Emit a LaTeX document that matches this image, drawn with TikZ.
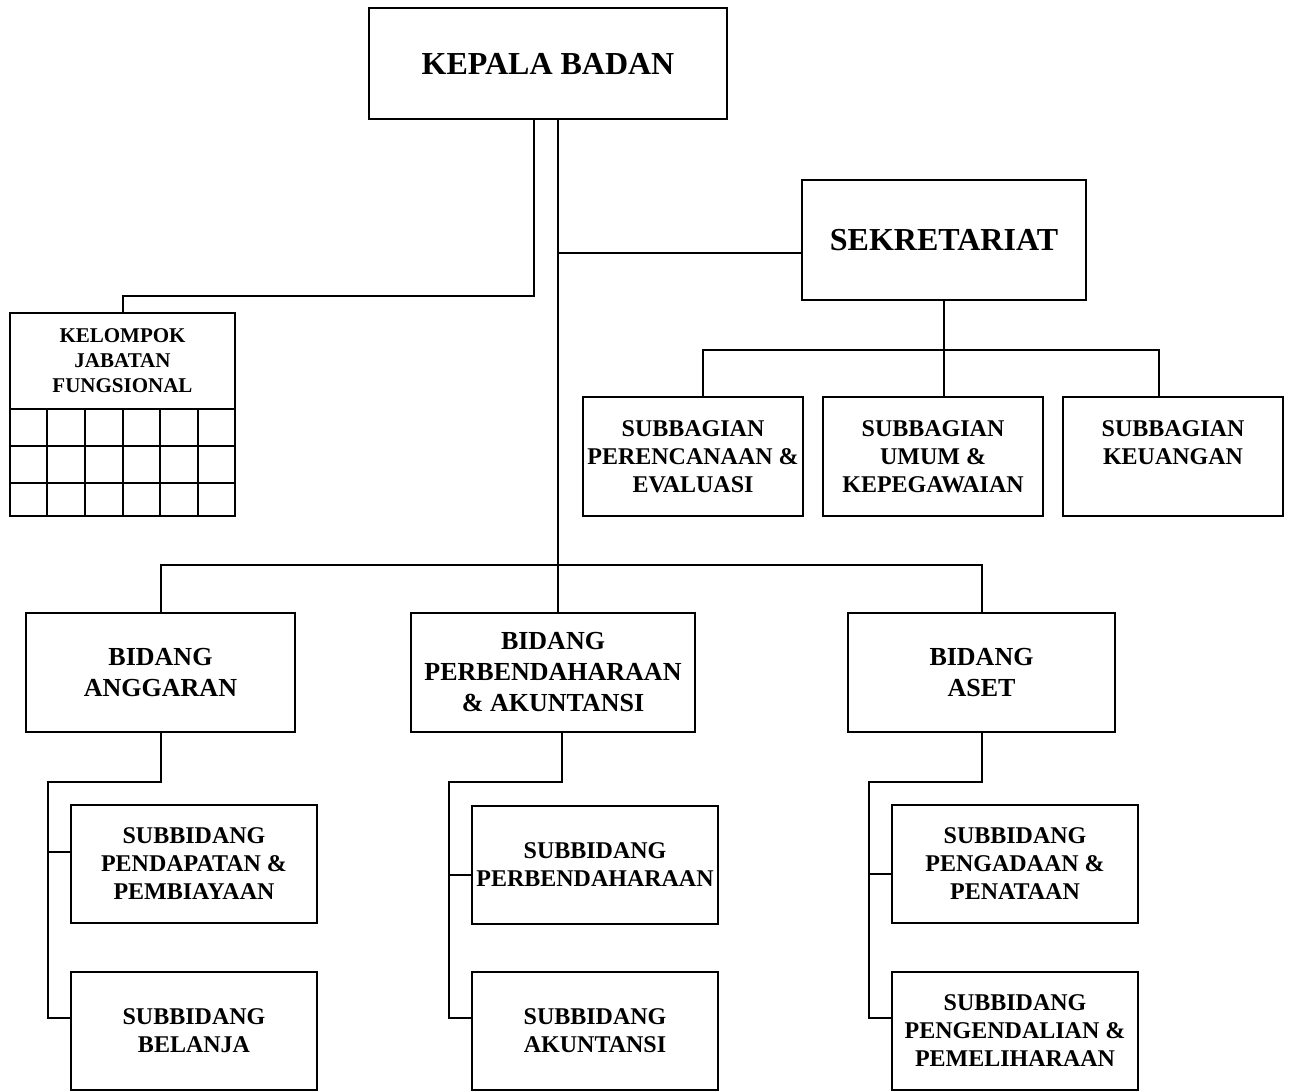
\documentclass[tikz,border=0pt]{standalone}
\usepackage{fontspec}
\setmainfont{Liberation Serif}
\usetikzlibrary{calc}
\usetikzlibrary{positioning}

\begin{document}
\begin{tikzpicture}[x=0.5pt,y=-0.5pt,
 box/.style={draw, line width=1pt, align=center, inner sep=2pt, font=\bfseries\fontsize{12}{14}\selectfont},
 headbox/.style={box, font=\bfseries\fontsize{16}{19}\selectfont},
 bidbox/.style={box, minimum width=134.5pt, minimum height=59.5pt, font=\bfseries\fontsize{13}{15.5}\selectfont},
 subbox/.style={box, minimum width=110pt, minimum height=59.5pt},
 subbid/.style={box, minimum width=123pt, minimum height=59pt},
 link/.style={line width=1pt}]
\useasboundingbox (0,0) rectangle (1293,1091);
% top
\node[headbox, minimum width=179pt, minimum height=55.5pt] (kepala) at (548,63.5) {KEPALA BADAN};
\node[headbox, minimum width=142pt, minimum height=60pt] (sek) at (944,240) {SEKRETARIAT};
\node[subbox] (sb1) at (693,456.5) {SUBBAGIAN\\PERENCANAAN \&\\EVALUASI};
\node[subbox] (sb2) at (933,456.5) {SUBBAGIAN\\UMUM \&\\KEPEGAWAIAN};
\node[subbox] (sb3) at (1173,456.5) {SUBBAGIAN\\KEUANGAN\\\mbox{}};
% kelompok jabatan fungsional
\node[box, minimum width=112.5pt, minimum height=48pt, font=\bfseries\fontsize{10.5}{12.5}\selectfont] (kjf) at (122.5,361) {KELOMPOK\\JABATAN\\FUNGSIONAL};
\node[box, minimum width=112.5pt, minimum height=53.5pt, below=-1pt of kjf] (kjfgrid) {};
\foreach \i in {1,...,5}
 \draw[link] ($(kjfgrid.north west)!\i/6!(kjfgrid.north east)$) -- ($(kjfgrid.south west)!\i/6!(kjfgrid.south east)$);
\foreach \i in {1,2}
 \draw[link] ($(kjfgrid.north west)!\i/2.9!(kjfgrid.south west)$) -- ($(kjfgrid.north east)!\i/2.9!(kjfgrid.south east)$);
% bidang
\node[bidbox] (ba) at (160.5,672.5) {BIDANG\\ANGGARAN};
\node[bidbox, minimum width=142pt] (bp) at (553,672.5) {BIDANG\\PERBENDAHARAAN\\\& AKUNTANSI};
\node[bidbox, minimum width=133.5pt] (bs) at (981.5,672.5) {BIDANG\\ASET};
\node[subbid] (ba1) at (194,864) {SUBBIDANG\\PENDAPATAN \&\\PEMBIAYAAN};
\node[subbid] (ba2) at (194,1031) {SUBBIDANG\\BELANJA};
\node[subbid] (bp1) at (595,865) {SUBBIDANG\\PERBENDAHARAAN};
\node[subbid] (bp2) at (595,1031) {SUBBIDANG\\AKUNTANSI};
\node[subbid] (bs1) at (1015,864) {SUBBIDANG\\PENGADAAN \&\\PENATAAN};
\node[subbid] (bs2) at (1015,1031) {SUBBIDANG\\PENGENDALIAN \&\\PEMELIHARAAN};
% connectors
\coordinate (trunk) at (558,565);
\coordinate (sekbus) at ($(sek.south)+(0,-24.5pt)$);
\draw[link] ([xshift=-7pt]kepala.south) |- ([yshift=8pt]kjf.north) -- (kjf.north);
\draw[link] ([xshift=5pt]kepala.south) -- (trunk) -- (trunk |- bp.north);
\draw[link] (ba.north) |- (trunk) -| (bs.north);
\draw[link] ([yshift=-6.5pt]sek.west) -- ([yshift=-6.5pt]sek.west -| trunk);
\draw[link] (sek.south) -- (sek.south |- sb2.north);
\draw[link] ([xshift=5pt]sb1.north) |- (sekbus) -| ([xshift=-7pt]sb3.north);
\foreach \bd/\dy/\dx in {ba/6pt/0pt, bp/-5pt/4.5pt, bs/-5pt/0pt} {
 \draw[link] ([xshift=\dx]\bd.south) -- ++(0,-24.5pt) -| ([xshift=-11pt,yshift=6.5pt]\bd2.west) -- ([yshift=6.5pt]\bd2.west);
 \draw[link] ([xshift=-11pt,yshift=\dy]\bd1.west) -- ([yshift=\dy]\bd1.west);
 }
\end{tikzpicture}
\end{document}
